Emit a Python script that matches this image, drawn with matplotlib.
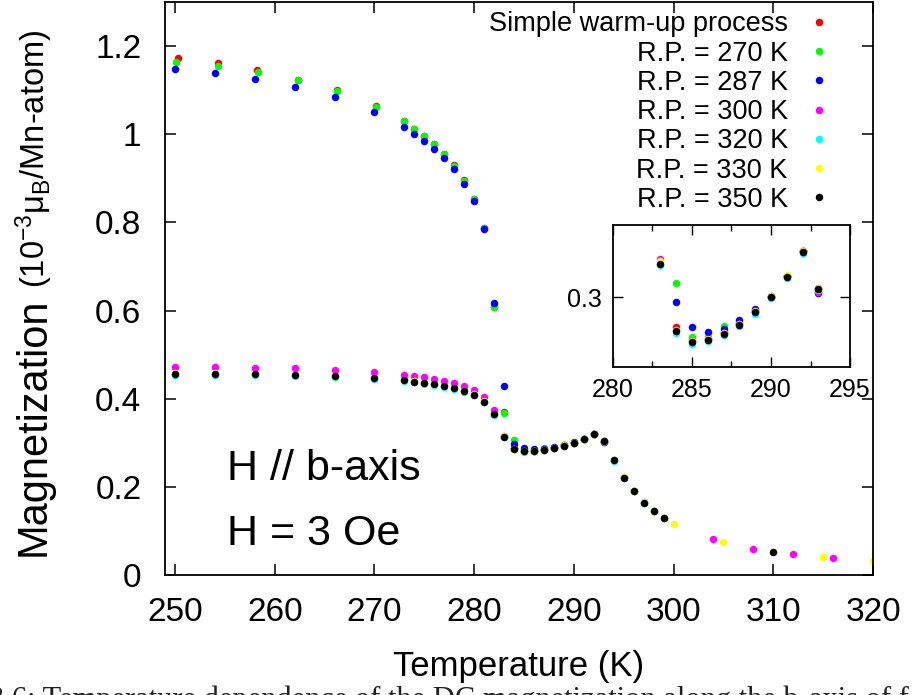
import matplotlib
matplotlib.use('Agg')
import matplotlib.pyplot as plt
from matplotlib import font_manager
from matplotlib.ticker import MultipleLocator, FormatStrFormatter

plt.rcParams['font.family'] = ['Liberation Sans', 'DejaVu Sans']
plt.rcParams['mathtext.fontset'] = 'custom'
plt.rcParams['mathtext.rm'] = 'Liberation Sans'
plt.rcParams['mathtext.it'] = 'Liberation Sans:italic'

# fuente angosta para el eje x (si esta instalada)
_nombres = {f.name for f in font_manager.fontManager.ttflist}
fuente_x = 'Liberation Sans Narrow' if 'Liberation Sans Narrow' in _nombres else 'Liberation Sans'

#%% Datos: M (10^-3 muB/Mn) vs T (K) para cada punto de retorno
etiquetas = ['Simple warm-up process', 'R.P. = 270 K', 'R.P. = 287 K',
             'R.P. = 300 K', 'R.P. = 320 K', 'R.P. = 330 K', 'R.P. = 350 K']
colores = ['#ff0000', '#00ff00', '#0000ff', '#ff00ff', '#00ffff', '#ffff00', '#000000']

T_simple = [250.3, 254.3, 258.2, 262.3, 266.2, 270.2, 273, 274, 275, 276, 277, 278, 279,
            280, 281, 282, 283, 284, 285, 286, 287, 288, 289, 290, 291, 292, 293]
M_simple = [1.172, 1.162, 1.146, 1.124, 1.100, 1.064, 1.030, 1.013, 0.996, 0.978, 0.956,
            0.930, 0.897, 0.854, 0.787, 0.609, 0.369, 0.287, 0.282, 0.282, 0.285, 0.289,
            0.294, 0.300, 0.309, 0.320, 0.304]

T_270 = [250.1, 254.3, 258.3, 262.3, 266.2, 270.2, 273, 274, 275, 276, 277, 278, 279,
         280, 281, 282, 283, 284, 285, 286, 287, 288, 289, 290, 291, 292, 293]
M_270 = [1.165, 1.155, 1.141, 1.122, 1.098, 1.062, 1.029, 1.011, 0.995, 0.977, 0.955,
         0.928, 0.895, 0.852, 0.787, 0.607, 0.367, 0.306, 0.283, 0.283, 0.2875, 0.289,
         0.294, 0.300, 0.309, 0.319, 0.303]

T_287 = [250, 254, 258, 262, 266, 270, 273, 274, 275, 276, 277, 278, 279,
         280, 281, 282, 283, 284, 285, 286, 287, 288, 289, 290, 291, 292, 293]
M_287 = [1.148, 1.138, 1.1245, 1.107, 1.084, 1.051, 1.017, 1.001, 0.985, 0.967, 0.946,
         0.920, 0.888, 0.848, 0.785, 0.618, 0.428, 0.298, 0.287, 0.285, 0.2862, 0.2901,
         0.2948, 0.3007, 0.3092, 0.3198, 0.302]

T_300 = [250, 254, 258, 262, 266, 270, 273, 274, 275, 276, 277, 278, 279, 280, 281, 282,
         283, 284, 285, 286, 287, 288, 289, 290, 291, 292, 293, 294, 295, 296, 297, 298,
         299, 304, 308, 312, 316]
M_300 = [0.4716, 0.4716, 0.4702, 0.4686, 0.4656, 0.4603, 0.4535, 0.4512, 0.4483, 0.4444,
         0.4408, 0.4354, 0.4286, 0.4188, 0.4037, 0.3736, 0.3162, 0.2857, 0.2812, 0.2822,
         0.2846, 0.2885, 0.2937, 0.3000, 0.3090, 0.3198, 0.3021, 0.2605, 0.2215, 0.1905,
         0.1645, 0.1455, 0.1295, 0.0815, 0.0596, 0.0468, 0.0377]

T_320 = [250, 254, 258, 262, 266, 270, 273, 274, 275, 276, 277, 278, 279, 280, 281, 282,
         283, 284, 285, 286, 287, 288, 289, 290, 291, 292, 293, 294, 295, 296, 297, 298, 299]
M_320 = [0.4548, 0.4548, 0.4540, 0.4525, 0.4502, 0.4457, 0.4405, 0.4375, 0.4344, 0.4314,
         0.4276, 0.4224, 0.4163, 0.4081, 0.3922, 0.3635, 0.3138, 0.2848, 0.2800, 0.2812,
         0.2837, 0.2876, 0.2929, 0.2996, 0.3082, 0.3188, 0.3030, 0.2595, 0.2205, 0.1895,
         0.1635, 0.1445, 0.1285]

T_330 = [250, 254, 258, 262, 266, 270, 273, 274, 275, 276, 277, 278, 279, 280, 281, 282,
         283, 284, 285, 286, 287, 288, 289, 290, 291, 292, 293, 294, 295, 296, 297, 298,
         299, 300, 305, 310, 315, 320]
M_330 = [0.4572, 0.4572, 0.4562, 0.4547, 0.4524, 0.4479, 0.4427, 0.4397, 0.4366, 0.4336,
         0.4298, 0.4246, 0.4185, 0.4103, 0.3944, 0.3657, 0.3155, 0.2858, 0.2812, 0.2822,
         0.2847, 0.2886, 0.2939, 0.3005, 0.3095, 0.3197, 0.3038, 0.2605, 0.2215, 0.1905,
         0.1645, 0.1455, 0.1295, 0.1150, 0.0747, 0.0530, 0.0400, 0.0310]

T_350 = [250, 254, 258, 262, 266, 270, 273, 274, 275, 276, 277, 278, 279, 280, 281, 282,
         283, 284, 285, 286, 287, 288, 289, 290, 291, 292, 293, 294, 295, 296, 297, 298,
         299, 310]
M_350 = [0.4558, 0.4558, 0.4550, 0.4535, 0.4512, 0.4467, 0.4415, 0.4385, 0.4354, 0.4324,
         0.4286, 0.4234, 0.4173, 0.4091, 0.3932, 0.3645, 0.3142, 0.2854, 0.2808, 0.2818,
         0.2843, 0.2882, 0.2935, 0.3001, 0.3088, 0.3193, 0.3034, 0.2600, 0.2210, 0.1900,
         0.1640, 0.1450, 0.1290, 0.0530]

series = [(T_simple, M_simple), (T_270, M_270), (T_287, M_287), (T_300, M_300),
          (T_320, M_320), (T_330, M_330), (T_350, M_350)]

#%% Figura principal
W, H = 913, 695
fig = plt.figure(figsize=(W / 100, H / 100), dpi=100)
ax = fig.add_axes([165 / W, 1 - 575 / H, (873 - 165) / W, (575 - 2) / H])

for (T, M), c, lab in zip(series, colores, etiquetas):
    ax.plot(T, M, 'o', color=c, ms=5.4, mew=0, label=lab)

ax.set_xlim(249, 320)
ax.set_ylim(0, 1.3)
ax.xaxis.set_major_locator(MultipleLocator(10))
ax.yaxis.set_major_locator(MultipleLocator(0.2))
ax.yaxis.set_major_formatter(FormatStrFormatter('%g'))
ax.tick_params(direction='in', top=True, right=True, length=8, width=1.1)
ax.tick_params(axis='y', labelsize=24, pad=17)
ax.tick_params(axis='x', labelsize=24, pad=16)
for t in ax.get_xticklabels():
    t.set_family(fuente_x)
for s in ax.spines.values():
    s.set_linewidth(1.3)

ax.set_xlabel('Temperature (K)', fontsize=25, family=fuente_x)
ax.xaxis.set_label_coords(0.5, -0.131)

ax.text(255.2, 0.215, 'H // b-axis', fontsize=31, va='baseline')
ax.text(255.2, 0.068, 'H = 3 Oe', fontsize=31, va='baseline')

# leyenda estilo gnuplot: texto alineado a la derecha y punto a la derecha
leg = ax.legend(loc='upper right', bbox_to_anchor=(0.9428, 0.9835), frameon=False,
                markerfirst=False, fontsize=19.5, handlelength=1.0, handletextpad=0.65,
                labelspacing=0.12, borderpad=0, borderaxespad=0)
for col in leg._legend_handle_box.get_children():
    col.align = 'right'

#%% Inset: zona del minimo
axins = fig.add_axes([613 / W, 1 - 367 / H, (850 - 613) / W, (367 - 225) / H])
for (T, M), c in zip(series, colores):
    axins.plot(T, M, 'o', color=c, ms=5.4, mew=0)
axins.set_xlim(280, 295)
axins.set_ylim(0.27, 0.331)
axins.xaxis.set_major_locator(MultipleLocator(5))
axins.xaxis.set_minor_locator(MultipleLocator(2.5))
axins.set_yticks([0.3])
axins.yaxis.set_major_formatter(FormatStrFormatter('%g'))
axins.tick_params(which='both', direction='in', top=True, right=True, labelsize=18, width=1.0)
axins.tick_params(which='major', length=7, pad=8)
axins.tick_params(which='minor', length=4)
for s in axins.spines.values():
    s.set_linewidth(1.3)

#%% Etiqueta del eje y en dos tamaños
fig.canvas.draw()
r = fig.canvas.get_renderer()
ylab1 = fig.text(45 / W, 1 - 556 / H, 'Magnetization', rotation=90, rotation_mode='anchor',
                 ha='left', va='baseline', fontsize=30)
ext = ylab1.get_window_extent(r)
fig.text(45 / W, (ext.y1 + 9) / fig.bbox.height, '(10$^{-3}$μ$_\\mathrm{B}$/Mn-atom)',
         rotation=90, rotation_mode='anchor', ha='left', va='baseline', fontsize=23.5)

# pie de figura (cortado en el borde inferior)
fig.text(-0.012, -13 / H, '3.6: Temperature dependence of the DC magnetization along the b-axis of f',
         family='Liberation Serif', fontsize=22, va='baseline', ha='left', color='#222222')

fig.savefig('out.png', dpi=100)
